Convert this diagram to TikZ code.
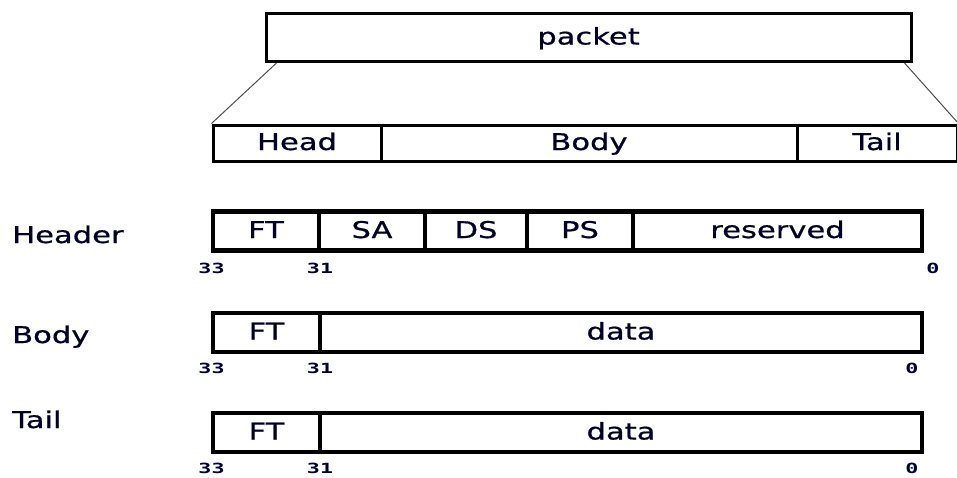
\documentclass[tikz,border=0pt]{standalone}
\usepackage{fontspec}
% wide, slightly heavy sans for captions; bold mono for bit numbers
\setmainfont[FakeStretch=1.33,FakeBold=0.7]{DejaVu Sans}
\newfontfamily\bitfont[FakeStretch=1.55]{DejaVu Sans Mono Bold}
\begin{document}
\begin{tikzpicture}[x=1pt,y=-1pt,
  fld/.style={draw=black,line width=4.5pt,rectangle,inner sep=0pt,
    text height=17pt,text depth=3pt,
    font=\fontsize{23}{23}\selectfont,text=black!85!blue},
  top/.style={draw=black,line width=3pt,rectangle,inner sep=0pt,
    text height=17pt,text depth=3pt,
    font=\fontsize{23}{23}\selectfont,text=black!85!blue},
  rowlabel/.style={anchor=base west,inner sep=0pt,font=\fontsize{23}{23}\selectfont,text=black!85!blue},
  bit/.style={inner sep=0pt,font=\bitfont\fontsize{14}{14}\selectfont,text=black!80!blue},
  fan/.style={draw=black!70,line width=1pt}]
\useasboundingbox (0,0) rectangle (957,477);

% packet and its three parts
\node[top,minimum width=645,minimum height=48] (packet) at (588.5,37.5) {packet};
\node[top,minimum width=168,minimum height=36] (head) at (297,143) {Head};
\node[top,minimum width=416,minimum height=36] (body) at (589,143) {Body};
\node[top,minimum width=160,minimum height=36] (tail) at (877,143) {Tail};
\coordinate (pl) at ([xshift=12]packet.south west);
\coordinate (pr) at ([xshift=-8]packet.south east);
\draw[fan] (pl) -- (head.north west);
\draw[fan] (pr) -- (tail.north east);

% header frame
\node[rowlabel] (lhdr) at (12,243) {Header};
\node[fld,minimum width=106,minimum height=39] (hft) at (266,231) {FT};
\node[fld,minimum width=106,minimum height=39] (hsa) at (372,231) {SA};
\node[fld,minimum width=102,minimum height=39] (hds) at (476,231) {DS};
\node[fld,minimum width=106,minimum height=39] (hps) at (580,231) {PS};
\node[fld,minimum width=289,minimum height=39] (hres) at (777.5,231) {reserved};
\node[bit] (h33) at (211.5,268) {33};
\node[bit] (h31) at (320,268) {31};
\node[bit] (h0) at (933,268) {0};

% body frame
\node[rowlabel] (lbody) at (12,343) {Body};
\node[fld,minimum width=107,minimum height=39] (bft) at (266.5,332.5) {FT};
\node[fld,minimum width=602,minimum height=39] (bdata) at (621,332.5) {data};
\node[bit] (b33) at (211.5,368) {33};
\node[bit] (b31) at (320,368) {31};
\node[bit] (b0) at (912,368) {0};

% tail frame
\node[rowlabel] (ltail) at (12,428) {Tail};
\node[fld,minimum width=107,minimum height=39] (tft) at (266.5,432.5) {FT};
\node[fld,minimum width=602,minimum height=39] (tdata) at (621,432.5) {data};
\node[bit] (t33) at (211.5,468) {33};
\node[bit] (t31) at (320,468) {31};
\node[bit] (t0) at (912,468) {0};
\end{tikzpicture}
\end{document}
